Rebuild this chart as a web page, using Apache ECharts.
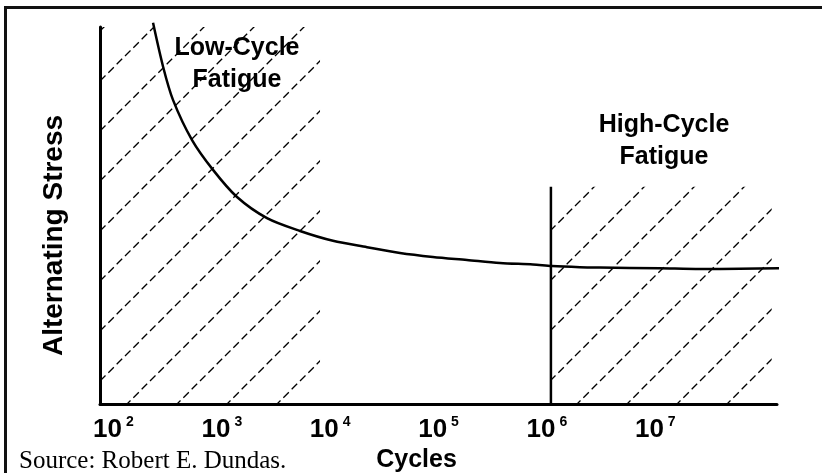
<!DOCTYPE html>
<html>
<head>
<meta charset="utf-8">
<script src="https://cdn.jsdelivr.net/npm/echarts@6/dist/echarts.min.js"></script>
<style>
  html, body { margin: 0; padding: 0; background: #fff; }
  #chart { width: 822px; height: 473px; }
</style>
</head>
<body>
<div id="chart"></div>
<script>
// ---- Data ----
const cycles = [213, 264, 326, 488, 762, 1268, 2399, 4838, 9750, 20090, 40460, 81500, 168000, 338600, 682000, 1.02e6, 1.85e6, 2.83e6, 1.01e7, 2.37e7, 5.54e7, 1.38e8];
const stress = [101.1, 89.4, 80.6, 70.0, 62.1, 54.9, 49.3, 45.9, 43.3, 41.6, 40.05, 39.0, 38.2, 37.4, 37.0, 36.6, 36.3, 36.2, 36.0, 35.8, 35.9, 36.0];
const xRange = [69, 1.22e8];          // cycles axis extent
const yRange = [0, 100];              // stress axis extent (arbitrary units)
const lowCycleZone = { x: [69, 7400], y: [0, 100] };
const highCycleZone = { x: [1e6, 1.09e8], y: [0, 57.6] };
const boundaryCycles = 1e6;
const tickExponents = [2, 3, 4, 5, 6, 7];

// ---- hatch pattern (dashed 45° lines) ----
function makeHatch() {
  const T = 50, c = document.createElement('canvas');
  c.width = T; c.height = T;
  const ctx = c.getContext('2d');
  const P = T * Math.SQRT2, d = P / 6;
  ctx.strokeStyle = '#000';
  ctx.lineWidth = 1.3;
  ctx.setLineDash([d * 0.66, d * 0.34]);
  ctx.lineDashOffset = P - 10 * Math.SQRT2;
  ctx.beginPath(); ctx.moveTo(-10, 41); ctx.lineTo(41, -10); ctx.stroke();
  ctx.lineDashOffset = 31 * Math.SQRT2 - 10 * Math.SQRT2;
  ctx.beginPath(); ctx.moveTo(21, 60); ctx.lineTo(60, 21); ctx.stroke();
  return c;
}
const hatch = { image: makeHatch(), repeat: 'repeat' };

const SANS = '"Liberation Sans", Arial, Helvetica, sans-serif';
const SERIF = '"Liberation Serif", "Times New Roman", serif';

const chart = echarts.init(document.getElementById('chart'), null, { renderer: 'canvas' });
chart.setOption({
  animation: false,
  backgroundColor: '#fff',
  grid: { left: 100, right: 45, top: 27, bottom: 69, containLabel: false, outerBoundsMode: 'none' },
  xAxis: {
    type: 'log',
    logBase: 10,
    min: xRange[0],
    max: xRange[1],
    name: 'Cycles',
    nameLocation: 'middle',
    nameGap: 35,
    nameTextStyle: { fontFamily: SANS, fontWeight: 'bold', fontSize: 25, color: '#000', padding: [0, 44, 0, 0] },
    axisLine: { show: true, lineStyle: { color: '#000', width: 3 } },
    axisTick: { show: false },
    splitLine: { show: false },
    minorTick: { show: false },
    axisLabel: {
      show: true,
      margin: 9,
      showMinLabel: false,
      showMaxLabel: false,
      padding: [0, 8, 0, 0],
      formatter: function (v) {
        const e = Math.log10(v);
        const r = Math.round(e);
        if (Math.abs(e - r) > 1e-6 || tickExponents.indexOf(r) < 0) return '';
        return '{b|10}{s|' + r + '}';
      },
      rich: {
        b: { fontFamily: SANS, fontWeight: 'bold', fontSize: 26, color: '#000', lineHeight: 30, verticalAlign: 'bottom' },
        s: { fontFamily: SANS, fontWeight: 'bold', fontSize: 14, color: '#000', padding: [2, 0, 0, 4], lineHeight: 30, verticalAlign: 'top' }
      }
    }
  },
  yAxis: {
    type: 'value',
    min: yRange[0],
    max: yRange[1],
    name: 'Alternating Stress',
    nameLocation: 'middle',
    nameRotate: 90,
    nameGap: 32,
    nameTextStyle: { fontFamily: SANS, fontWeight: 'bold', fontSize: 28, color: '#000', padding: [0, 40, 0, 0] },
    axisLine: { show: true, lineStyle: { color: '#000', width: 3 } },
    axisTick: { show: false },
    axisLabel: { show: false },
    splitLine: { show: false }
  },
  series: [
    {
      name: 'zones',
      type: 'line',
      data: [],
      z: 1,
      silent: true,
      markArea: {
        silent: true,
        label: { show: false },
        itemStyle: { color: hatch, borderWidth: 0 },
        data: [
          [{ coord: [lowCycleZone.x[0], lowCycleZone.y[0]] }, { coord: [lowCycleZone.x[1], lowCycleZone.y[1]] }],
          [{ coord: [highCycleZone.x[0], highCycleZone.y[0]] }, { coord: [highCycleZone.x[1], highCycleZone.y[1]] }]
        ]
      }
    },
    {
      name: 'boundary',
      type: 'line',
      z: 3,
      silent: true,
      symbol: 'none',
      lineStyle: { color: '#000', width: 2.5 },
      data: [[boundaryCycles, highCycleZone.y[0]], [boundaryCycles, highCycleZone.y[1]]]
    },
    {
      name: 'S-N curve',
      type: 'line',
      z: 4,
      silent: true,
      clip: false,
      smooth: 0.3,
      symbol: 'none',
      lineStyle: { color: '#000', width: 2.5 },
      data: cycles.map((c, i) => [c, stress[i]])
    }
  ],
  graphic: [
    { type: 'line', shape: { x1: 4, y1: 7.5, x2: 822, y2: 7.5 }, style: { stroke: '#111', lineWidth: 3 }, silent: true },
    { type: 'line', shape: { x1: 5.5, y1: 6, x2: 5.5, y2: 473 }, style: { stroke: '#111', lineWidth: 3 }, silent: true },
    { type: 'text', x: 237, y: 64, silent: true,
      style: { text: 'Low-Cycle\nFatigue', font: 'bold 25px ' + SANS, fill: '#000', textAlign: 'center', textVerticalAlign: 'middle', lineHeight: 32 } },
    { type: 'text', x: 664, y: 141, silent: true,
      style: { text: 'High-Cycle\nFatigue', font: 'bold 25px ' + SANS, fill: '#000', textAlign: 'center', textVerticalAlign: 'middle', lineHeight: 32 } },
    { type: 'text', x: 19, y: 461, silent: true,
      style: { text: 'Source: Robert E. Dundas.', font: '25px ' + SERIF, fill: '#000', textAlign: 'left', textVerticalAlign: 'middle' } }
  ]
});
</script>
</body>
</html>
